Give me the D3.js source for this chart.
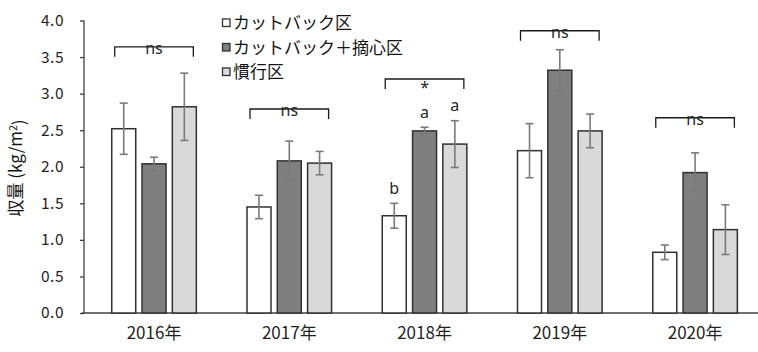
<!DOCTYPE html>
<html>
<head>
<meta charset="utf-8">
<script src="https://cdn.jsdelivr.net/npm/d3@7"></script>
<style>
  html, body { margin: 0; padding: 0; background: #fff; }
  svg { display: block; font-family: "Noto Sans CJK JP", "Noto Sans", sans-serif; }
</style>
</head>
<body>
<svg id="chart" width="758" height="352"></svg>
<script>
// Yield by year and treatment (kg/m²), with error bar half-lengths
const years = ["2016年", "2017年", "2018年", "2019年", "2020年"];
const treatments = ["カットバック区", "カットバック＋摘心区", "慣行区"];
const cutback      = [2.52, 1.45, 1.33, 2.22, 0.83];
const cutbackPinch = [2.04, 2.08, 2.49, 3.32, 1.92];
const conventional = [2.82, 2.05, 2.31, 2.49, 1.14];
const errCutback      = [0.35, 0.16, 0.17, 0.37, 0.10];
const errCutbackPinch = [0.09, 0.27, 0.05, 0.28, 0.27];
const errConventional = [0.46, 0.16, 0.32, 0.23, 0.34];
const yTicks = [0, 0.5, 1.0, 1.5, 2.0, 2.5, 3.0, 3.5, 4.0];
// significance brackets per year
const sigLabels = ["ns", "ns", "*", "ns", "ns"];
const bracketLevels = [3.64, 2.79, 3.20, 3.86, 2.67];
// multiple-comparison letters (2018)
const letterYear = "2018年";
const letters = ["b", "a", "a"];

const fills = ["#ffffff", "#7f7f7f", "#d9d9d9"];
const values = [cutback, cutbackPinch, conventional];
const errors = [errCutback, errCutbackPinch, errConventional];

const svg = d3.select("#chart");

const y = d3.scaleLinear().domain([0, 4]).range([313, 20.5]);
const x0 = d3.scaleBand().domain(years).range([86.4, 762.7]).padding(0);
const bw0 = x0.bandwidth();
const x1 = d3.scaleBand().domain(treatments)
  .range([bw0 / 2 - 42.3, bw0 / 2 + 42.3]).paddingInner(0.208).paddingOuter(0);

const rows = years.map((yr, i) => ({
  year: yr,
  bars: treatments.map((t, j) => ({ t, j, v: values[j][i], e: errors[j][i] }))
}));

// y axis
const yAxis = d3.axisLeft(y).tickValues(yTicks).tickFormat(d3.format(".1f")).tickSize(4).tickPadding(16);
const gy = svg.append("g").attr("transform", "translate(84,0)").call(yAxis);
gy.select(".domain").attr("stroke", "#404040").attr("stroke-width", 1.3).attr("d", "M0,20.5V313");
gy.selectAll(".tick line").attr("stroke", "#404040").attr("stroke-width", 1.3);
gy.selectAll(".tick text").attr("fill", "#1f1f1f").style("font-size", "15.5px")
  .style("font-family", "'Noto Sans CJK JP', sans-serif").attr("letter-spacing", "0.5px");

// x axis baseline and labels
const xAxis = d3.axisBottom(x0).tickSize(0).tickPadding(14);
const gx = svg.append("g").attr("transform", "translate(0,313)").call(xAxis);
gx.select(".domain").attr("stroke", "#404040").attr("stroke-width", 1.3).attr("d", "M82,0H758");
gx.selectAll(".tick text").attr("fill", "#1f1f1f").style("font-size", "17px")
  .style("font-family", "'Noto Sans CJK JP', sans-serif");

// bars
const groups = svg.append("g").selectAll("g.year").data(rows).join("g")
  .attr("class", "year").attr("transform", d => `translate(${x0(d.year)},0)`);

groups.selectAll("rect").data(d => d.bars).join("rect")
  .attr("x", d => x1(d.t))
  .attr("y", d => y(d.v))
  .attr("width", x1.bandwidth())
  .attr("height", d => y(0) - y(d.v))
  .attr("fill", d => fills[d.j])
  .attr("stroke", "#303030")
  .attr("stroke-width", 1.5);

// error bars
const eb = groups.selectAll("g.err").data(d => d.bars).join("g").attr("class", "err")
  .attr("stroke", "#7a7a7a").attr("stroke-width", 1.6);
eb.append("line")
  .attr("x1", d => x1(d.t) + x1.bandwidth() / 2).attr("x2", d => x1(d.t) + x1.bandwidth() / 2)
  .attr("y1", d => y(d.v + d.e)).attr("y2", d => y(d.v - d.e));
eb.append("line")
  .attr("x1", d => x1(d.t) + x1.bandwidth() / 2 - 4).attr("x2", d => x1(d.t) + x1.bandwidth() / 2 + 4)
  .attr("y1", d => y(d.v + d.e)).attr("y2", d => y(d.v + d.e));
eb.append("line")
  .attr("x1", d => x1(d.t) + x1.bandwidth() / 2 - 4).attr("x2", d => x1(d.t) + x1.bandwidth() / 2 + 4)
  .attr("y1", d => y(d.v - d.e)).attr("y2", d => y(d.v - d.e));

// significance brackets
years.forEach((yr, i) => {
  const left = x0(yr) + x1(treatments[0]) + 3;
  const right = x0(yr) + x1(treatments[2]) + x1.bandwidth() - 3;
  const by = y(bracketLevels[i]);
  svg.append("path")
    .attr("d", `M${left},${by + 10}V${by}H${right}V${by + 10}`)
    .attr("fill", "none").attr("stroke", "#1a1a1a").attr("stroke-width", 1.3);
  const isStar = sigLabels[i] === "*";
  svg.append("text")
    .attr("x", (left + right) / 2)
    .attr("y", isStar ? by + 14 : by + 7.5)
    .attr("text-anchor", "middle")
    .attr("fill", "#262626")
    .style("font-size", "16px")
    .style("font-family", "'Noto Sans', sans-serif")
    .text(sigLabels[i]);
});

// letters above 2018 bars
const li = years.indexOf(letterYear);
treatments.forEach((t, j) => {
  const top = y(values[j][li] + errors[j][li]);
  svg.append("text")
    .attr("x", x0(letterYear) + x1(t) + x1.bandwidth() / 2)
    .attr("y", top - 9.5)
    .attr("text-anchor", "middle")
    .attr("fill", "#262626")
    .style("font-size", "16px")
    .style("font-family", "'Noto Sans', sans-serif")
    .text(letters[j]);
});

// legend
const lg = svg.append("g").attr("transform", "translate(222.5,0)");
const legendRows = [23, 47.5, 72];
treatments.forEach((t, j) => {
  lg.append("rect")
    .attr("x", 0).attr("y", legendRows[j] - 4).attr("width", 7.5).attr("height", 7.5)
    .attr("fill", fills[j]).attr("stroke", "#303030").attr("stroke-width", 1.3);
  lg.append("text")
    .attr("x", 10.5).attr("y", legendRows[j]).attr("dy", "0.36em")
    .attr("fill", "#141414")
    .style("font-size", "17px")
    .text(t);
});

// y axis title
const yt = svg.append("text")
  .attr("transform", "translate(22,168) rotate(-90)")
  .attr("text-anchor", "middle")
  .attr("fill", "#141414")
  .style("font-size", "17px");
yt.append("tspan").text("収量 (kg/m");
yt.append("tspan").attr("dy", "-0.45em").style("font-size", "10.5px").text("2");
yt.append("tspan").attr("dy", "0.45em").text(")");
</script>
</body>
</html>
